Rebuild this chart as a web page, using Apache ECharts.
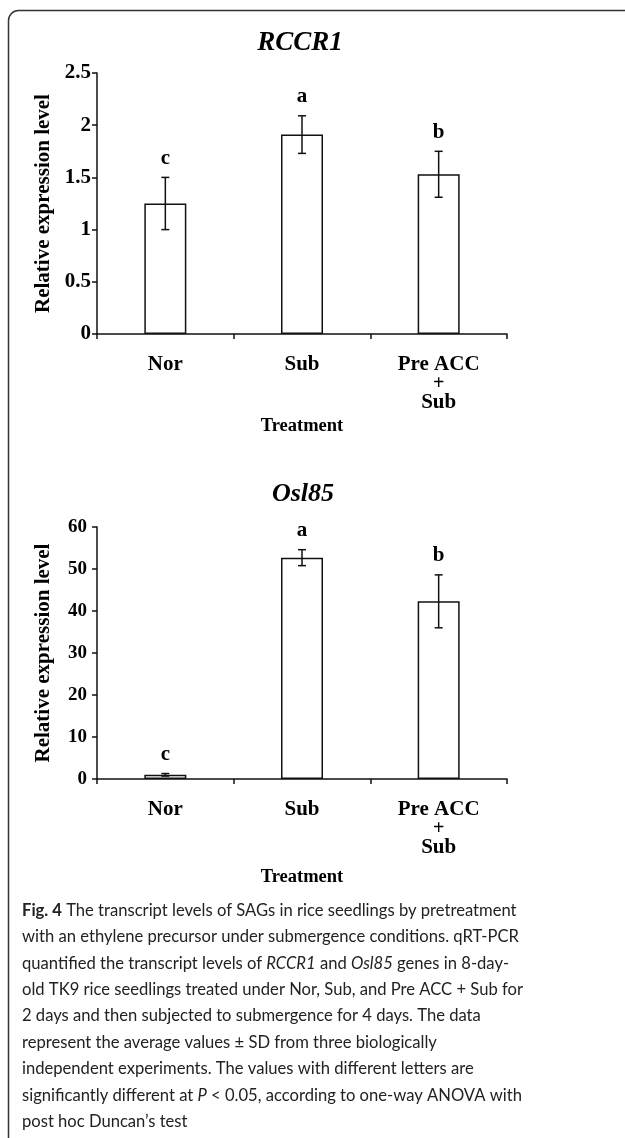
<!DOCTYPE html>
<html>
<head>
<meta charset="utf-8">
<script src="https://cdn.jsdelivr.net/npm/echarts@6/dist/echarts.min.js"></script>
<style>
  html, body { margin: 0; padding: 0; background: #fff; }
  #main { width: 625px; height: 1138px; }
</style>
</head>
<body>
<div id="main"></div>
<script>
// treatments on the x axis
const categories = ['Nor', 'Sub', 'Pre ACC\n+\nSub'];

// RCCR1 (top panel)
const rccr1Mean = [1.25, 1.91, 1.53];
const rccr1Sd = [0.25, 0.18, 0.22];
const rccr1Letters = ['c', 'a', 'b'];
const rccr1Ticks = [0, 0.5, 1, 1.5, 2, 2.5];

// Osl85 (bottom panel)
const osl85Mean = [1.0, 52.7, 42.3];
const osl85Sd = [0.3, 1.9, 6.3];
const osl85Letters = ['c', 'a', 'b'];
const osl85Ticks = [0, 10, 20, 30, 40, 50, 60];

// caption, one entry per printed line
const captionLines = [
  [['b', 'Fig. 4'], ['n', ' The transcript levels of SAGs in rice seedlings by pretreatment']],
  [['n', 'with an ethylene precursor under submergence conditions. qRT-PCR']],
  [['n', 'quantified the transcript levels of '], ['i', 'RCCR1'], ['n', ' and '], ['i', 'Osl85'], ['n', ' genes in 8-day-']],
  [['n', 'old TK9 rice seedlings treated under Nor, Sub, and Pre ACC + Sub for']],
  [['n', '2 days and then subjected to submergence for 4 days. The data']],
  [['n', 'represent the average values \u00b1 SD from three biologically']],
  [['n', 'independent experiments. The values with different letters are']],
  [['n', 'significantly different at '], ['i', 'P'], ['n', ' < 0.05, according to one-way ANOVA with']],
  [['n', 'post hoc Duncan\u2019s test']]
];

const serif = '"Liberation Serif", "Times New Roman", serif';
const sans = 'Lato, "Open Sans", sans-serif';
const ink = '#111';

var myChart = echarts.init(document.getElementById('main'));

function errorSeries(gridIdx, mean, sd, letters) {
  return {
    type: 'custom',
    xAxisIndex: gridIdx,
    yAxisIndex: gridIdx,
    clip: false,
    z: 5,
    data: mean.map((m, i) => [i, m, sd[i], letters[i]]),
    renderItem: function (params, api) {
      const i = api.value(0);
      const m = api.value(1);
      const s = api.value(2);
      const hi = api.coord([i, m + s]);
      const lo = api.coord([i, m - s]);
      const cap = 4;
      const ls = { stroke: ink, lineWidth: 1.5 };
      return {
        type: 'group',
        children: [
          { type: 'line', shape: { x1: hi[0], y1: hi[1], x2: lo[0], y2: lo[1] }, style: ls },
          { type: 'line', shape: { x1: hi[0] - cap, y1: hi[1], x2: hi[0] + cap, y2: hi[1] }, style: ls },
          { type: 'line', shape: { x1: lo[0] - cap, y1: lo[1], x2: lo[0] + cap, y2: lo[1] }, style: ls },
          {
            type: 'text',
            style: {
              text: letters[i],
              x: hi[0], y: hi[1] - 19,
              align: 'center', verticalAlign: 'middle',
              fill: '#000',
              font: 'bold 21px ' + serif
            }
          }
        ]
      };
    }
  };
}

function xAxisFor(gridIdx, nameGap) {
  return {
    type: 'category',
    gridIndex: gridIdx,
    data: categories,
    name: 'Treatment',
    nameLocation: 'middle',
    nameGap: nameGap,
    nameTextStyle: { fontFamily: serif, fontWeight: 'bold', fontSize: 18.5, color: '#000' },
    axisLine: { lineStyle: { color: ink, width: 1.5 } },
    axisTick: { show: true, length: 5, lineStyle: { color: ink, width: 1.5 } },
    axisLabel: {
      margin: 21,
      interval: 0,
      formatter: function (v) {
        return v.split('\n').map(p => p === '+' ? '{p|+}' : '{a|' + p + '}').join('\n');
      },
      rich: {
        a: { fontFamily: serif, fontWeight: 'bold', fontSize: 21, lineHeight: 20, color: '#000' },
        p: { fontFamily: serif, fontWeight: 'bold', fontSize: 20, lineHeight: 18, color: '#000' }
      }
    }
  };
}

function yAxisFor(gridIdx, ticks, margin, labelSize) {
  return {
    type: 'value',
    gridIndex: gridIdx,
    min: ticks[0],
    max: ticks[ticks.length - 1],
    interval: ticks[1] - ticks[0],
    name: 'Relative expression level',
    nameLocation: 'middle',
    nameGap: 43,
    nameTextStyle: { fontFamily: serif, fontWeight: 'bold', fontSize: 21, color: '#000' },
    splitLine: { show: false },
    axisLine: { show: true, lineStyle: { color: ink, width: 1.5 } },
    axisTick: { show: true, length: 5, lineStyle: { color: ink, width: 1.5 } },
    axisLabel: { margin: margin, fontFamily: serif, fontWeight: 'bold', fontSize: labelSize, color: '#000' }
  };
}

function barSeries(gridIdx, mean) {
  return {
    type: 'bar',
    xAxisIndex: gridIdx,
    yAxisIndex: gridIdx,
    data: mean,
    barWidth: 42,
    itemStyle: { color: '#fff', borderColor: ink, borderWidth: 1.5 }
  };
}

const captionGraphics = captionLines.map((line, k) => ({
  type: 'text',
  left: 22,
  top: 902 + k * 26.4,
  style: {
    text: line.map(f => '{' + f[0] + '|' + f[1] + '}').join(''),
    rich: {
      n: { fontFamily: sans, fontSize: 16.6, fill: '#222' },
      b: { fontFamily: sans, fontSize: 16.6, fontWeight: 'bold', fill: '#222' },
      i: { fontFamily: sans, fontSize: 16.6, fontStyle: 'italic', fill: '#222' }
    }
  }
}));

const option = {
  animation: false,
  backgroundColor: '#fff',
  title: [
    {
      text: 'RCCR1', left: 295, top: 25, textAlign: 'center',
      textStyle: { fontFamily: serif, fontWeight: 'bold', fontStyle: 'italic', fontSize: 27, color: '#000' }
    },
    {
      text: 'Osl85', left: 298, top: 476, textAlign: 'center',
      textStyle: { fontFamily: serif, fontWeight: 'bold', fontStyle: 'italic', fontSize: 26, color: '#000' }
    }
  ],
  grid: [
    { left: 97, width: 410, top: 73, height: 261 },
    { left: 97, width: 410, top: 527, height: 252 }
  ],
  xAxis: [xAxisFor(0, 83), xAxisFor(1, 89)],
  yAxis: [yAxisFor(0, rccr1Ticks, 6, 21), yAxisFor(1, osl85Ticks, 10, 19)],
  series: [
    barSeries(0, rccr1Mean),
    errorSeries(0, rccr1Mean, rccr1Sd, rccr1Letters),
    barSeries(1, osl85Mean),
    errorSeries(1, osl85Mean, osl85Sd, osl85Letters)
  ],
  graphic: [
    {
      type: 'rect',
      shape: { x: 8.5, y: 10.5, width: 800, height: 1300, r: 10 },
      style: { fill: 'none', stroke: '#333', lineWidth: 1.5 }
    }
  ].concat(captionGraphics)
};

myChart.setOption(option);
</script>
</body>
</html>
